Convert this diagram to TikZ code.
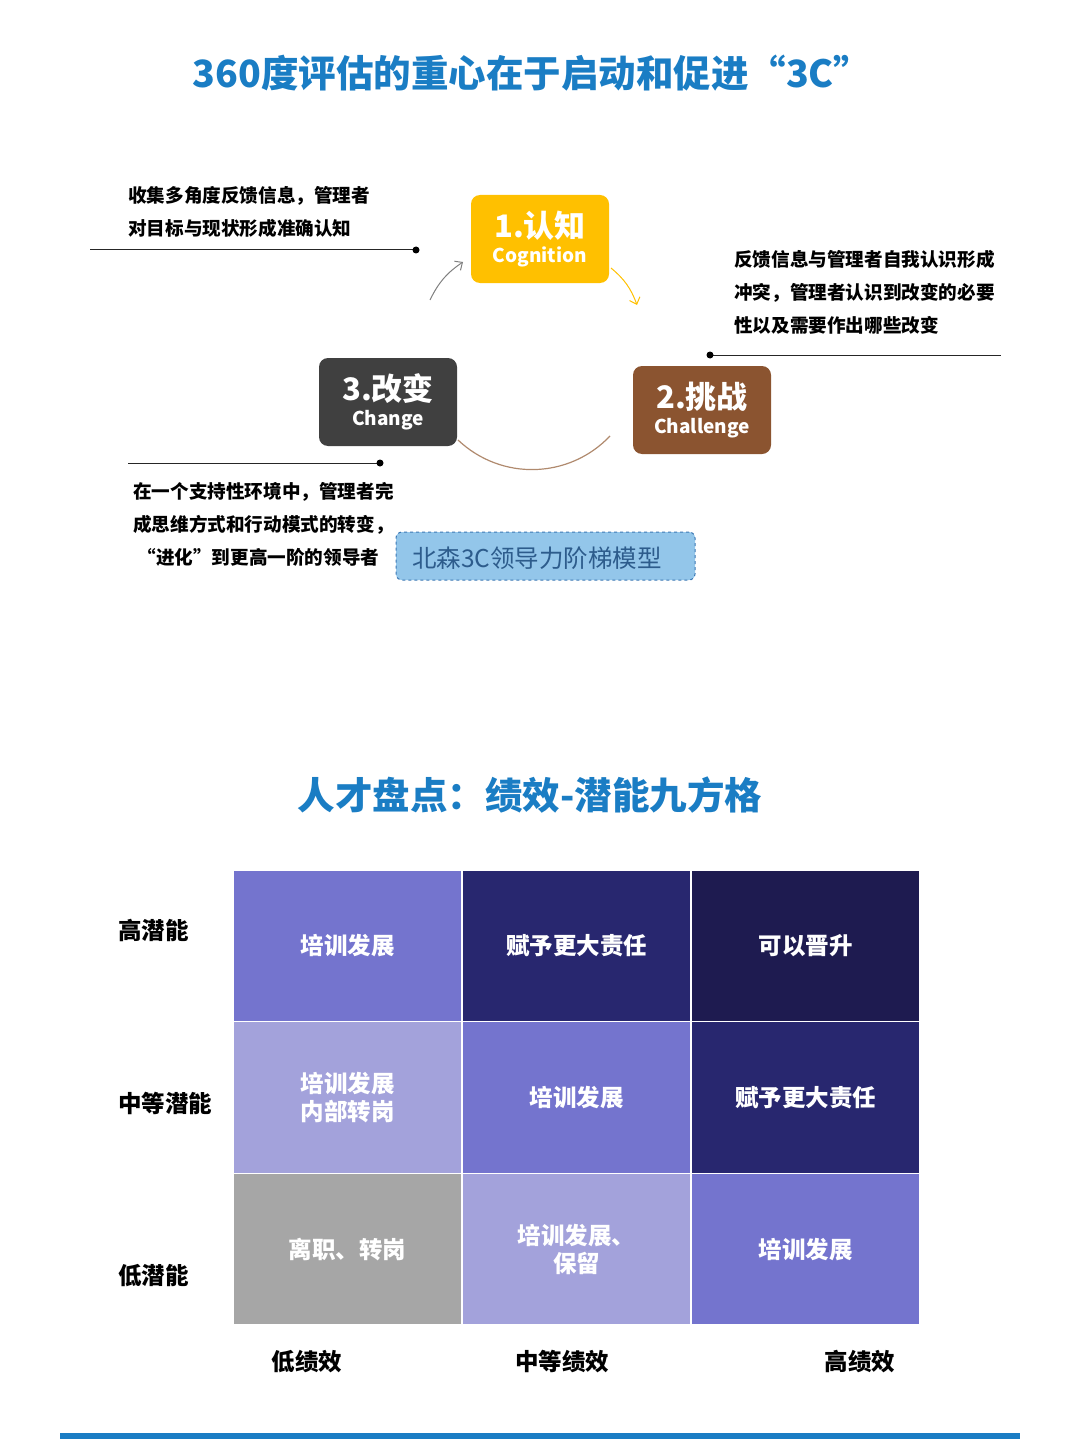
\documentclass[tikz,border=0pt]{standalone}
\usepackage{fontspec}
\setmainfont{Noto Sans CJK SC}
\usepackage{tikz}
\usetikzlibrary{arrows.meta,positioning,calc}

\definecolor{titleblue}{HTML}{1A7DC4}
\definecolor{cogyellow}{HTML}{FFC000}
\definecolor{chalbrown}{HTML}{8B5430}
\definecolor{changegrey}{HTML}{404040}
\definecolor{modelfill}{HTML}{93C6EA}
\definecolor{modeldraw}{HTML}{3C78B4}
\definecolor{modeltext}{HTML}{2D5C8C}
\definecolor{arcbrown}{HTML}{B08A6E}
\definecolor{pmid}{HTML}{7474CE}
\definecolor{pdark}{HTML}{28276F}
\definecolor{pdeep}{HTML}{1E1B50}
\definecolor{plight}{HTML}{A3A2DB}
\definecolor{pgrey}{HTML}{A6A6A6}

\tikzset{
  stagebox/.style={rounded corners=9pt, minimum width=138pt, minimum height=88pt,
    text=white, align=center, inner sep=0pt},
  note/.style={align=left, anchor=north west, inner sep=0pt,
    font=\fontsize{18.6}{33.2}\selectfont\bfseries},
  cell/.style={draw=white, line width=1.5pt, minimum width=229pt, minimum height=151.7pt,
    text=white, align=center, font=\fontsize{23.5}{28}\selectfont\bfseries},
  axislabel/.style={font=\fontsize{23.5}{28}\selectfont\bfseries, inner sep=0pt},
  pin/.style={line width=1pt, black!85},
}

\begin{document}
\begin{tikzpicture}[x=1pt, y=-1pt]
    \useasboundingbox (0,0) rectangle (1080,1439);

    % Title
    \node[text=titleblue, font=\fontsize{37.5}{40}\selectfont\bfseries] (title) at (532,73)
        {360度评估的重心在于启动和促进“3C”};

    % The three stages
    \node[stagebox, fill=cogyellow] (cog) at (540,239)
        {{\fontsize{31}{31}\selectfont\bfseries 1.认知}\\[6pt]{\fontsize{19}{22}\selectfont\bfseries Cognition}};
    \node[stagebox, fill=chalbrown] (chal) at (702,410)
        {{\fontsize{31}{31}\selectfont\bfseries 2.挑战}\\[6pt]{\fontsize{19}{22}\selectfont\bfseries Challenge}};
    \node[stagebox, fill=changegrey] (chg) at (388,402)
        {{\fontsize{31}{31}\selectfont\bfseries 3.改变}\\[6pt]{\fontsize{19}{22}\selectfont\bfseries Change}};

    % Cycle arrows
    \coordinate (a1s) at (430,300);
    \coordinate (a1e) at (463,262);
    \coordinate (a2s) at (611,268);
    \coordinate (a2e) at (637,305);
    \coordinate (a3s) at (458,440);
    \coordinate (a3e) at (610,436);
    \draw[gray, line width=1pt, -{Straight Barb[length=6pt,width=11pt]}] (a1s) to[bend left=15] (a1e);
    \draw[cogyellow, line width=1pt, -{Straight Barb[length=6pt,width=11pt]}] (a2s) to[bend left=15] (a2e);
    \draw[arcbrown, line width=1.2pt] (a3s) to[bend right=45] (a3e);

    % Notes with pin lines
    \node[note] (n1) at (128,186) {收集多角度反馈信息，管理者\\对目标与现状形成准确认知};
    \coordinate (p1a) at (90,250);
    \coordinate (p1b) at (416,250);
    \draw[pin] (p1a) -- (p1b);
    \fill (p1b) circle (3.5pt);

    \node[note] (n2) at (734,250) {反馈信息与管理者自我认识形成\\冲突，管理者认识到改变的必要\\性以及需要作出哪些改变};
    \coordinate (p2a) at (710,355);
    \coordinate (p2b) at (1001,355);
    \draw[pin] (p2a) -- (p2b);
    \fill (p2a) circle (3.5pt);

    \node[note] (n3) at (133,482) {在一个支持性环境中，管理者完\\成思维方式和行动模式的转变，\\\ “进化”到更高一阶的领导者};
    \coordinate (p3a) at (128,463);
    \coordinate (p3b) at (380,463);
    \draw[pin] (p3a) -- (p3b);
    \fill (p3b) circle (3.5pt);

    % Model name
    \node[fill=modelfill, draw=modeldraw, dashed, line width=1pt, rounded corners=6pt,
          minimum width=299pt, minimum height=48pt] (model) at (545.5,556) {};
    \node[text=modeltext, font=\fontsize{24.5}{28}\selectfont] (modelname) at (537,558)
        {北森3C领导力阶梯模型};

    % Second title
    \node[text=titleblue, font=\fontsize{37.5}{40}\selectfont\bfseries] (title2) at (530,795)
        {人才盘点：绩效-潜能九方格};

    % Nine-box grid
    \foreach \r/\c/\col/\txt in {1/1/pmid/培训发展, 1/2/pdark/赋予更大责任, 1/3/pdeep/可以晋升,
        2/1/plight/{培训发展\\内部转岗}, 2/2/pmid/培训发展, 2/3/pdark/赋予更大责任,
        3/1/pgrey/{离职、转岗}, 3/2/plight/{培训发展、\\保留}, 3/3/pmid/培训发展}
        \node[cell, fill=\col] (cell\r\c) at ({233+(\c-0.5)*229}, {870+(\r-0.5)*151.7}) {\txt};

    % Axis labels
    \node[axislabel, anchor=west] (hp) at (118,930) {高潜能};
    \node[axislabel, anchor=west] (mp) at (118,1103) {中等潜能};
    \node[axislabel, anchor=west] (lp) at (118,1276) {低潜能};
    \node[axislabel] (lperf) at (307,1362) {低绩效};
    \node[axislabel] (mperf) at (562,1362) {中等绩效};
    \node[axislabel] (hperf) at (860,1362) {高绩效};

    % Bottom bar
    \fill[titleblue] (60,1433) rectangle (1020,1439);
\end{tikzpicture}
\end{document}
